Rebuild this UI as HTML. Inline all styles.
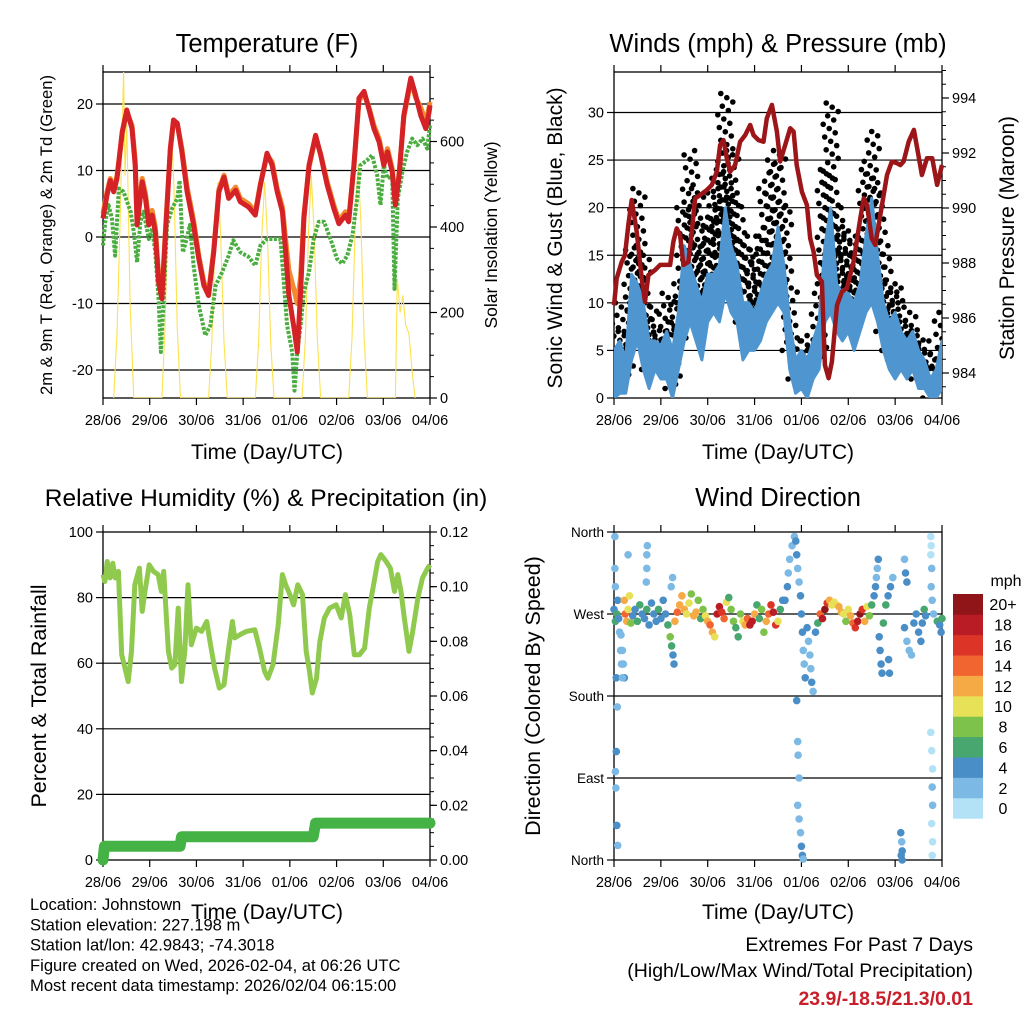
<!DOCTYPE html>
<html><head><meta charset="utf-8">
<style>
html,body{margin:0;padding:0;background:#fff;}
svg{display:block;font-family:"Liberation Sans",Arial,sans-serif;}
</style></head>
<body>
<svg id="c" width="1024" height="1024" viewBox="0 0 1024 1024"></svg>
<script>
// ---------- DATA ----------
const dayLabels = ["28/06","29/06","30/06","31/06","01/06","02/06","03/06","04/06"];
const tRed = [0,.086,.157,.229,.3,.41,.51,.62,.69,.73,.84,.91,.98,1.05,1.12,1.19,1.26,1.34,1.44,1.51,1.59,1.69,1.8,1.94,2.05,2.16,2.26,2.37,2.48,2.59,2.69,2.84,2.94,3.12,3.26,3.37,3.51,3.62,3.73,3.84,3.91,3.98,4.09,4.16,4.23,4.3,4.41,4.55,4.66,4.8,4.94,5.05,5.19,5.26,5.37,5.48,5.59,5.69,5.8,5.91,6.01,6.09,6.19,6.26,6.34,6.44,6.59,6.69,6.8,6.91,6.98,7.0];
const vRed = [2.8,6.3,8.5,6.8,8.8,15.8,19.1,16.3,10.8,1.8,8.3,5.8,1.8,3.3,0.8,-6.8,-9.3,0.8,13.3,17.6,17.1,12.8,6.8,1.8,-3.3,-7.3,-8.8,-2.3,6.8,9.0,5.8,7.0,5.3,4.5,3.3,7.8,12.6,10.8,6.8,3.8,-2.3,-8.8,-13.8,-17.3,-8.3,2.8,10.8,15.3,12.3,7.8,4.3,2.0,3.3,2.3,10.8,20.9,21.9,19.3,16.3,14.3,10.8,12.8,9.8,4.8,9.3,18.3,23.9,21.4,18.3,16.3,18.8,19.8];
const vOrange = [3.5,6.8,8.8,7.2,9.2,15.5,18.8,16.8,11.5,3.0,8.8,6.5,2.5,4.0,1.5,-5.8,-8.5,1.5,13.0,17.3,17.0,13.3,7.5,2.5,-2.8,-6.8,-8.3,-2.0,7.2,9.3,6.3,7.5,5.8,5.0,3.8,8.0,12.3,11.3,7.3,4.5,-0.5,-5.0,-8.0,-10.0,-6.0,3.3,10.5,15.0,12.5,8.3,4.8,2.5,3.8,2.8,10.5,20.5,21.6,19.6,16.8,14.8,11.3,13.3,10.3,5.3,9.8,18.0,23.5,21.0,19.5,17.3,19.5,20.3];
const tGreen = [0,.05,.12,.19,.26,.34,.44,.59,.66,.73,.8,.87,.98,1.05,1.12,1.19,1.24,1.3,1.37,1.48,1.59,1.64,1.71,1.79,1.86,1.94,2.05,2.19,2.3,2.41,2.55,2.69,2.79,2.94,3.12,3.26,3.37,3.51,3.8,3.87,3.94,4.05,4.1,4.16,4.23,4.3,4.41,4.51,4.62,4.73,4.87,5.01,5.12,5.23,5.34,5.44,5.51,5.66,5.76,5.87,5.94,6.01,6.09,6.19,6.24,6.31,6.41,6.51,6.62,6.73,6.84,6.94,7.0];
const vGreen = [-1.3,2.3,4.8,2.8,-2.8,7.3,6.8,3.8,0.8,-3.8,2.3,3.8,-0.3,1.3,-2.3,-9.3,-17.3,-9.3,1.8,4.3,5.8,8.5,-2.3,-0.3,1.8,-4.3,-10.3,-14.8,-13.3,-7.3,-5.3,-2.8,-0.5,-2.3,-3.0,-4.3,-1.3,-0.3,-0.3,-6.8,-13.3,-17.3,-23.1,-17.3,-13.3,-8.3,-5.3,-0.3,2.3,2.3,-0.3,-3.3,-4.0,-2.8,0.3,5.8,10.8,11.6,12.3,9.3,4.8,10.8,8.8,9.3,-7.8,5.8,9.8,12.8,14.8,13.8,14.8,13.3,16.8];
const tSolar = [0.23,0.3,0.37,0.44,0.47,0.51,0.58,0.66, 1.26,1.33,1.4,1.46,1.52,1.59,1.66, 2.26,2.33,2.4,2.46,2.52,2.59,2.66, 3.26,3.33,3.4,3.46,3.52,3.59,3.66, 4.26,4.33,4.4,4.46,4.52,4.59,4.66, 5.26,5.33,5.4,5.46,5.52,5.59,5.66, 6.26,6.3,6.36,6.42,6.48,6.55,6.62,6.68];
const vSolar = [0,150,430,765,520,640,220,0, 0,170,500,645,490,160,0, 0,130,380,505,380,130,0, 0,130,380,505,380,130,0, 0,135,390,520,390,135,0, 0,140,410,545,410,140,0, 0,280,200,240,170,150,60,0];
const tWind = [0,.125,.25,.375,.5,.625,.75,.875,1,1.125,1.25,1.375,1.5,1.625,1.75,1.875,2,2.125,2.25,2.375,2.5,2.625,2.75,2.875,3,3.125,3.25,3.375,3.5,3.625,3.75,3.875,4,4.125,4.25,4.375,4.5,4.625,4.75,4.875,5,5.125,5.25,5.375,5.5,5.625,5.75,5.875,6,6.125,6.25,6.375,6.5,6.625,6.75,6.875,7];
const windHi = [5,6,4,13,12,10,6,6,5.5,7,5,9,16,14,12,10,13,13,14,20,16,14,10,10,9,11,13,14,18,14,8,4,5,4,6,8,16,20,12,11,11,10,12,17,21,15,10,8,9,7,6,7,5,4,2,3,6];
const windLo = [0,.5,.5,4,6,3,1,3,2,2,0,3,6,8,6,4,8,9,8,11,9,8,4,5,5,6,8,9,10,9,3,.5,1,0,2,3,8,9,7,6,7,5,7,9,10,8,5,3,2,3,2,3,1,1,0,0,1];
const gustHi = [5,10,7,16,22,15,10,8,7,11,8,12,20,26,22,16,19,22,24,32,26,21,17,16,14,17,22,25,26,20,12,6,6,5,7,11,24,31,20,18,17,15,17,24,28,22,16,12,12,10,8,9,7,6,4,5,9];
const gustLo = [1,3,2,7,10,7,3,3,3,4,1,5,10,12,10,8,11,13,13,15,14,11,8,9,8,10,12,13,14,12,5,2,3,2,3,4,12,14,11,10,10,8,10,12,15,11,7,5,4,4,3,3,2,2,0,1,3];
const tPres = [0,.057,.164,.235,.306,.378,.485,.591,.662,.734,.876,.983,1.09,1.197,1.268,1.339,1.41,1.481,1.588,1.66,1.73,1.838,1.98,2.09,2.194,2.265,2.336,2.407,2.478,2.585,2.692,2.8,2.906,2.977,3.084,3.19,3.26,3.37,3.476,3.547,3.654,3.76,3.832,3.9,4.01,4.117,4.188,4.259,4.33,4.437,4.5,4.58,4.65,4.76,4.865,4.97,5.114,5.256,5.328,5.4,5.5,5.577,5.648,5.72,5.826,5.93,6.04,6.11,6.18,6.29,6.4,6.47,6.57,6.68,6.79,6.895,7.0];
const vPres = [986.47,987.44,988.04,988.29,989.38,990.29,989.14,987.44,986.59,987.56,987.74,987.93,987.93,987.93,988.78,989.26,989.02,987.93,988.04,989.14,990.35,990.47,990.65,990.84,991.32,992.29,992.47,991.81,991.32,991.56,992.41,992.65,993.02,992.65,992.47,992.41,993.26,993.75,992.78,991.69,992.29,992.9,992.78,991.56,990.59,990.11,988.9,988.41,987.56,987.32,984.29,983.81,984.41,986.47,986.96,987.08,988.05,989.62,990.35,990.11,988.9,988.66,989.38,990.11,991.2,991.69,991.63,991.56,991.69,992.41,992.84,992.17,991.2,991.81,991.81,990.84,991.56];
const tRH = [0,.04,.09,.15,.21,.26,.33,.4,.47,.54,.61,.68,.78,.84,.9,.99,1.08,1.18,1.25,1.3,1.4,1.47,1.54,1.61,1.68,1.75,1.82,1.89,2.0,2.11,2.22,2.29,2.39,2.49,2.59,2.68,2.77,2.82,2.93,3.07,3.25,3.35,3.46,3.53,3.64,3.75,3.84,3.91,4.0,4.08,4.17,4.27,4.35,4.42,4.48,4.57,4.64,4.74,4.85,4.99,5.1,5.19,5.28,5.38,5.49,5.6,5.7,5.78,5.88,5.95,6.06,6.15,6.24,6.31,6.38,6.45,6.55,6.63,6.74,6.84,6.95,7.0];
const vRH = [87,84.9,91,86,90.5,86,88,62.6,58.5,54.4,63.6,83.9,89,75.8,81.9,90,88,87,81.9,88,63.6,58.5,59.5,76.8,54.4,63.6,83.9,65.6,70.7,69.7,72.7,66.6,58.5,52.4,53.4,63.6,72.7,67.7,68.7,69.7,70.2,64.6,57.5,55.4,59.5,71.7,87,83.9,80.9,77.8,83.9,80.9,63.6,57.5,50.9,55.4,66.6,73.8,76.8,77.8,73.8,80.9,74.8,62.6,62.6,64.6,76.8,82.9,91,93.1,91,89,81.9,87,81.9,73.8,63.6,69.7,79.9,86,89,90];
const tPrecip = [0,0.03,1.65,1.68,4.5,4.55,7.0];
const vPrecip = [0,0.005,0.005,0.0085,0.0085,0.0135,0.0135];
const dirT = [0.02,0.02,0.03,0.05,0.07,0.05,0.03,0.04,0.06,0.08,0.15,0.18,0.2,0.22,0.3,0.7,0.7,0.71,0.69,1.22,1.25,
 0.0,0.03,0.06,0.08,0.1,0.12,0.14,0.16,0.18,0.22,0.24,0.27,0.3,0.33,0.36,0.4,0.45,0.5,0.55,0.6,0.65,0.7,0.75,0.8,0.85,0.9,0.95,1.0,1.05,1.1,1.15,1.2,1.23,1.26,1.28,1.3,1.35,1.4,1.45,1.5,1.55,1.6,1.65,1.7,1.75,1.8,1.85,1.9,1.95,2.0,2.05,2.1,2.15,2.2,2.25,2.3,2.35,2.4,2.45,2.5,2.55,2.6,2.65,2.7,2.75,2.8,2.85,2.9,2.95,3.0,3.05,3.1,3.15,3.2,3.25,3.3,3.35,3.4,3.45,3.5,3.55,3.6,
 3.65,3.7,3.72,3.75,3.8,3.85,3.88,3.9,3.92,3.95,3.98,4.0,4.02,4.04,4.06,4.08,3.92,3.93,3.95,3.92,3.95,3.98,4.0,4.02,4.04,3.9,
 4.12,4.15,4.18,4.2,4.22,4.25,4.3,4.35,4.4,4.45,4.5,4.55,4.6,4.65,4.7,4.75,4.8,4.85,4.9,4.95,5.0,5.05,5.1,5.15,5.2,5.25,5.3,5.35,5.4,5.45,5.5,5.55,5.58,5.6,5.62,5.64,5.66,5.68,5.7,5.72,5.75,5.8,5.85,5.9,5.95,5.86,5.88,
 6.12,6.14,6.15,6.13,6.15,6.2,6.25,6.3,6.35,6.4,6.45,6.5,6.55,6.58,6.62,6.65,6.2,6.22,6.25,
 6.76,6.77,6.76,6.78,6.77,6.79,6.76,6.78,6.8,6.79,6.8,6.78,6.8,6.79,6.82,6.9,6.95,7.0,6.98];
const dirD = [355,320,300,200,168,119,97,79,38,16,247,230,215,200,335,320,335,345,305,300,310,
 275,262,270,285,265,250,230,215,200,285,270,262,275,290,260,268,275,262,280,270,265,275,258,282,270,262,275,265,285,270,258,245,235,225,215,262,272,280,290,275,270,282,292,268,272,285,265,275,268,262,258,250,245,270,278,272,265,283,288,275,262,255,245,270,262,258,265,258,262,270,280,265,275,250,262,270,280,272,258,262,275,285,
 285,300,315,330,345,355,350,335,320,305,290,270,250,230,215,200,130,115,90,60,45,30,15,5,1,175,
 255,240,225,210,195,185,250,260,270,265,275,282,285,280,283,280,278,272,270,262,275,268,260,255,262,270,275,262,278,268,280,290,300,310,320,330,245,230,215,205,260,280,290,300,310,220,205,
 30,20,10,5,0,255,240,230,225,260,270,250,240,260,275,268,330,315,305,
 355,345,335,320,300,285,140,120,100,80,60,40,20,5,270,262,258,265,250];
const dirS = [2,2,2,3,2,3,2,2,3,2,2,2,2,3,2,2,2,2,2,2,2,
 4,5,6,4,3,2,2,2,2,11,13,12,10,9,7,4,4,5,5,4,4,6,4,4,3,4,5,4,4,4,5,7,6,4,4,12,13,12,11,11,10,9,8,11,12,7,6,7,10,12,14,11,10,17,18,16,14,9,6,7,8,6,6,8,10,12,14,17,18,12,6,5,7,8,12,14,16,18,15,10,6,4,
 4,3,2,2,2,2,4,3,2,2,3,4,4,2,2,3,2,1,2,2,1,2,3,3,2,4,
 4,2,2,2,3,2,4,6,13,18,19,16,11,10,10,9,11,12,10,8,10,12,14,16,18,19,15,11,10,8,6,4,4,2,2,4,4,4,4,4,5,6,4,4,2,4,4,
 4,2,4,4,3,3,2,2,2,4,4,4,4,4,6,4,2,4,4,
 0,0,0,1,1,2,0,0,0,1,1,0,0,0,2,6,4,6,4];
const cbLabels = ["0","2","4","6","8","10","12","14","16","18","20+"];
const cbColors = ["#b3e2f7","#7cb9e4","#4a8ec7","#48a66f","#7dc24b","#e7e157","#f6aa46","#f06530","#dd3428","#ba1c25","#8f1519"];

// ---------- HELPERS ----------
const svg = document.getElementById('c');
const NS = 'http://www.w3.org/2000/svg';
function mk(tag, attrs, parent){
  const e = document.createElementNS(NS, tag);
  for (const k in attrs) e.setAttribute(k, attrs[k]);
  (parent||svg).appendChild(e);
  return e;
}
function txt(s, x, y, size, anchor, parent, extra){
  const e = mk('text', Object.assign({x:x, y:y, 'font-size':size, 'text-anchor':anchor||'middle', fill:'#000'}, extra||{}), parent);
  e.textContent = s;
  return e;
}
function vtxt(s, x, y, size, parent){
  const e = mk('text', {x:0, y:0, 'font-size':size, 'text-anchor':'middle', fill:'#000', transform:'translate('+x+','+y+') rotate(-90)'}, parent);
  e.textContent = s;
  return e;
}
function linear(d0,d1,r0,r1){ return v => r0 + (v-d0)/(d1-d0)*(r1-r0); }
function pathFrom(ts, vs, xs, ys){
  let d=''; for(let i=0;i<ts.length;i++){ d += (i?'L':'M') + xs(ts[i]).toFixed(1)+','+ys(vs[i]).toFixed(1); } return d;
}

function panel(name, x0, x1, y0, y1){
  const g = mk('g', {});
  
  
  return {g, x0, x1, y0, y1, xs: linear(0,7,x0,x1)};
}
function frame(p, leftTicks, leftLab, rightTicks, rightLab, rightMinor){
  const ax = mk('g', {}, p.g);
  
  
  leftTicks.forEach(tk => {
    const y = tk.y;
    if (y > p.y0 + 1 && y < p.y1 - 1) mk('line', {x1:p.x0, x2:p.x1, y1:y, y2:y, stroke:'#000', 'stroke-width':1.2}, ax);
  });
  mk('rect', {x:p.x0, y:p.y0, width:p.x1-p.x0, height:p.y1-p.y0, fill:'none', stroke:'#000', 'stroke-width':1.3}, ax);
  for (let d=0; d<=7; d++){
    const x = p.xs(d);
    mk('line', {x1:x, x2:x, y1:p.y1, y2:p.y1+7, stroke:'#000', 'stroke-width':1.2}, ax);
    mk('line', {x1:x, x2:x, y1:p.y0, y2:p.y0-7, stroke:'#000', 'stroke-width':1.2}, ax);
    const l = txt(dayLabels[d], x, p.y1+27, 14.5, 'middle', ax);
    
    
  }
  leftTicks.forEach(tk => {
    mk('line', {x1:p.x0-7, x2:p.x0, y1:tk.y, y2:tk.y, stroke:'#000', 'stroke-width':1.2}, ax);
    if (leftLab) {
      const l = txt(tk.label, p.x0-10, tk.y+5, leftLab, 'end', ax);
      
      
    }
  });
  (rightMinor||[]).forEach(y => mk('line', {x1:p.x1, x2:p.x1+4, y1:y, y2:y, stroke:'#000', 'stroke-width':1}, ax));
  (rightTicks||[]).forEach(tk => {
    mk('line', {x1:p.x1, x2:p.x1+7, y1:tk.y, y2:tk.y, stroke:'#000', 'stroke-width':1.2}, ax);
    const l = txt(tk.label, p.x1+10, tk.y+5, rightLab, 'start', ax);
    
    
  });
}

// ---------- PANEL 1: TEMPERATURE ----------
{
  const p = panel('temperature-panel', 103, 430, 72, 398);
  const ys = linear(0, 10, 237, 170.5);
  const ysSol = linear(0, 200, 398, 312.5);
  const clip = mk('clipPath', {id:'cp1'}, p.g); mk('rect', {x:p.x0, y:p.y0, width:p.x1-p.x0, height:p.y1-p.y0}, clip);
  const L = [20,10,0,-10,-20].map(v => ({y:ys(v), label:String(v)}));
  const R = [0,200,400,600].map(v => ({y:ysSol(v), label:String(v)}));
  const minor = []; for (let v=0; v<=750; v+=50) minor.push(ysSol(v));
  frame(p, L, 14.5, R, 14.5, minor);
  const sol = mk('path', {d:pathFrom(tSolar, vSolar, p.xs, ysSol), fill:'none', stroke:'#fde24f', 'stroke-width':1.1, 'clip-path':'url(#cp1)'}, p.g);
   
  const gr = mk('path', {d:pathFrom(tGreen, vGreen, p.xs, ys), fill:'none', stroke:'#4aad3f', 'stroke-width':4, 'stroke-dasharray':'3 1.5', 'stroke-linejoin':'round'}, p.g);
   
  const or = mk('path', {d:pathFrom(tRed, vOrange, p.xs, ys), fill:'none', stroke:'#f28a30', 'stroke-width':5, 'stroke-linejoin':'round'}, p.g);
   
  const rd = mk('path', {d:pathFrom(tRed, vRed, p.xs, ys), fill:'none', stroke:'#d42226', 'stroke-width':5, 'stroke-linejoin':'round'}, p.g);
   
  const t = txt('Temperature (F)', 267, 52, 25.5, 'middle', p.g);  
  const xl = txt('Time (Day/UTC)', 267, 459, 21, 'middle', p.g);  
  const yl = vtxt('2m & 9m T (Red, Orange) & 2m Td (Green)', 52, 235, 16.6, p.g);  
  const y2 = vtxt('Solar Insolation (Yellow)', 497, 235, 17.5, p.g);  
}

// ---------- PANEL 2: WINDS ----------
{
  const p = panel('winds-panel', 614, 942, 72, 398);
  const ys = linear(0, 30, 398, 112.5);
  const ysP = linear(984, 994, 373, 98);
  const clip = mk('clipPath', {id:'cp2'}, p.g); mk('rect', {x:p.x0, y:p.y0, width:p.x1-p.x0, height:p.y1-p.y0}, clip);
  const L = [0,5,10,15,20,25,30].map(v => ({y:ys(v), label:String(v)}));
  const R = [984,986,988,990,992,994].map(v => ({y:ysP(v), label:String(v)}));
  const minor = []; for (let v=983.5; v<=995; v+=0.5) minor.push(ysP(v));
  frame(p, L, 14.5, R, 14.5, minor);
  const gg = mk('g', {'clip-path':'url(#cp2)'}, p.g);
   
  for (let i=0; i<tWind.length; i++){
    const n = Math.max(2, Math.round((gustHi[i]-gustLo[i])/0.45));
    for (let j=0; j<=n; j++){
      const v = gustLo[i] + (gustHi[i]-gustLo[i])*j/n;
      const dx = ((j*7)%11 - 5)*1.5;
      const c = mk('circle', {cx:(p.xs(tWind[i])+dx).toFixed(1), cy:ys(v).toFixed(1), r:2.8, fill:'#000'}, gg);
      
      
    }
  }
  let d=''; for (let i=0;i<tWind.length;i++) d += (i?'L':'M')+p.xs(tWind[i]).toFixed(1)+','+ys(windHi[i]).toFixed(1);
  for (let i=tWind.length-1;i>=0;i--) d += 'L'+p.xs(tWind[i]).toFixed(1)+','+ys(windLo[i]).toFixed(1);
  const wa = mk('path', {d:d+'Z', fill:'#4f96d0', stroke:'#4f96d0', 'stroke-width':3, 'stroke-linejoin':'round', 'clip-path':'url(#cp2)'}, p.g);
   
  const pr = mk('path', {d:pathFrom(tPres, vPres, p.xs, ysP), fill:'none', stroke:'#9c1518', 'stroke-width':4.5, 'stroke-linejoin':'round'}, p.g);
   
  const t = txt('Winds (mph) & Pressure (mb)', 778, 52, 25.5, 'middle', p.g);  
  const xl = txt('Time (Day/UTC)', 778, 459, 21, 'middle', p.g);  
  const yl = vtxt('Sonic Wind & Gust (Blue, Black)', 562, 238, 21, p.g);  
  const y2 = vtxt('Station Pressure (Maroon)', 1014, 238, 20.8, p.g);  
}

// ---------- PANEL 3: RH ----------
{
  const p = panel('humidity-panel', 103, 430, 532, 860);
  const ys = linear(0, 100, 860, 532);
  const ysR = linear(0, 0.12, 860, 532);
  const L = [0,20,40,60,80,100].map(v => ({y:ys(v), label:String(v)}));
  const R = [0,0.02,0.04,0.06,0.08,0.10,0.12].map(v => ({y:ysR(v), label:v.toFixed(2)}));
  const minor = []; for (let v=0; v<=0.1201; v+=0.005) minor.push(ysR(v));
  frame(p, L, 14.5, R, 14.5, minor);
  const rh = mk('path', {d:pathFrom(tRH, vRH, p.xs, ys), fill:'none', stroke:'#8fca4f', 'stroke-width':5, 'stroke-linejoin':'round'}, p.g);
   
  const pc = mk('path', {d:pathFrom(tPrecip, vPrecip, p.xs, ysR), fill:'none', stroke:'#45b246', 'stroke-width':11, 'stroke-linejoin':'round', 'stroke-linecap':'round'}, p.g);
   
  const t = txt('Relative Humidity (%) & Precipitation (in)', 266, 506, 24.5, 'middle', p.g);  
  const xl = txt('Time (Day/UTC)', 267, 919, 21, 'middle', p.g);  
  const yl = vtxt('Percent & Total Rainfall', 46, 696, 21.5, p.g);  
}

// ---------- PANEL 4: WIND DIRECTION ----------
{
  const p = panel('wind-direction-panel', 614, 942, 532, 860);
  const ys = linear(0, 360, 860, 532);
  const names = ['North','East','South','West','North'];
  const L = [0,90,180,270,360].map((v,i) => ({y:ys(v), label:names[i]}));
  frame(p, L, 13.5, [], 13, []);
  const dg = mk('g', {}, p.g);
   
  for (let i=0; i<dirT.length; i++){
    const lvl = Math.min(10, Math.round(dirS[i]/2));
    const c = mk('circle', {cx:p.xs(dirT[i]).toFixed(1), cy:ys(dirD[i]).toFixed(1), r:3.8, fill:cbColors[lvl]}, dg);
    
    
  }
  const cb = mk('g', {}, p.g);
   
  const bh = 20.4, top = 594;
  for (let i=0; i<11; i++){
    const y = top + (10-i)*bh;
    const r = mk('rect', {x:953, y:y.toFixed(1), width:30, height:(bh+0.3).toFixed(1), fill:cbColors[i]}, cb);
    
    
    txt(cbLabels[i], 1003, y+bh/2+6, 16, 'middle', cb);
  }
  txt('mph', 1006, 586, 16, 'middle', cb);
  const t = txt('Wind Direction', 778, 506, 25.5, 'middle', p.g);  
  const xl = txt('Time (Day/UTC)', 778, 919, 21, 'middle', p.g);  
  const yl = vtxt('Direction (Colored By Speed)', 540, 696, 21.5, p.g);  
}

// ---------- FOOTER ----------
{
  const g = mk('g', {});
   
  const lines = ['Location: Johnstown','Station elevation: 227.198 m','Station lat/lon: 42.9843; -74.3018','Figure created on Wed, 2026-02-04, at 06:26 UTC','Most recent data timestamp: 2026/02/04 06:15:00'];
  lines.forEach((s,i) => txt(s, 30, 910 + i*20.3, 16.6, 'start', g));
  const e = mk('g', {});
   
  txt('Extremes For Past 7 Days', 973, 951, 19.5, 'end', e);
  txt('(High/Low/Max Wind/Total Precipitation)', 973, 977, 19.5, 'end', e);
  txt('23.9/-18.5/21.3/0.01', 973, 1005, 19.5, 'end', e, {fill:'#c8202a', 'font-weight':'bold'});
}
</script>
</body></html>
